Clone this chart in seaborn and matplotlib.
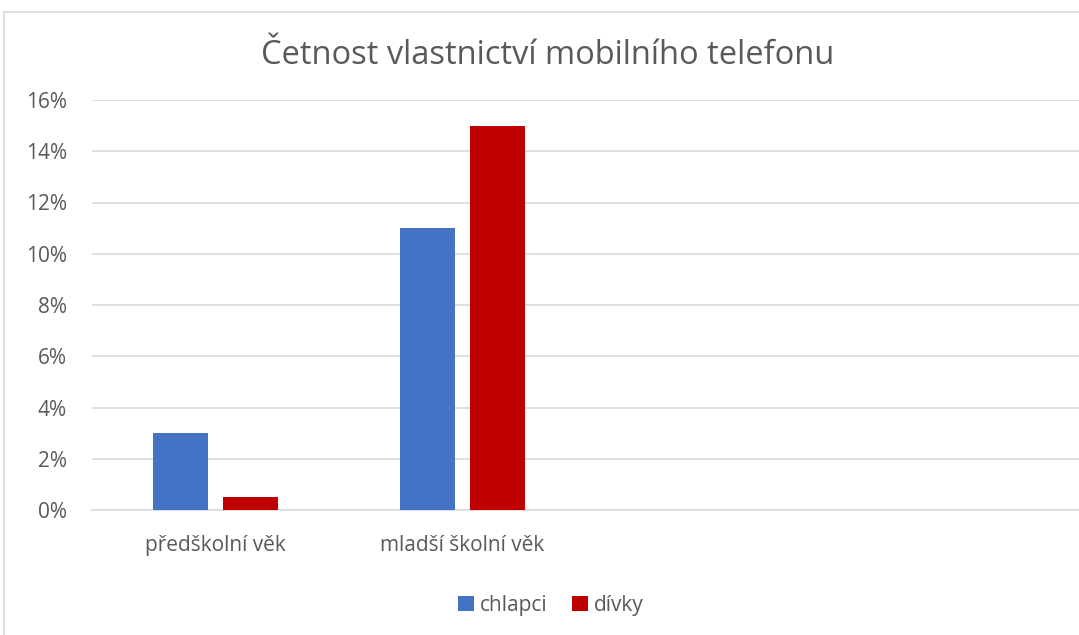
import numpy as np
import pandas as pd
import seaborn as sns
import matplotlib.pyplot as plt
from matplotlib.patches import Rectangle
from matplotlib.ticker import PercentFormatter

# data
kategorie = ["předškolní věk", "mladší školní věk"]
chlapci = [0.03, 0.11]
divky = [0.005, 0.15]
serie = ["chlapci", "dívky"]
barvy = ["#4472C4", "#C00000"]
y_ticks = [0, 0.02, 0.04, 0.06, 0.08, 0.10, 0.12, 0.14, 0.16]

df = pd.DataFrame({
    "kategorie": kategorie * 2,
    "hodnota": chlapci + divky,
    "serie": [serie[0]] * len(kategorie) + [serie[1]] * len(kategorie),
})

sns.set_style("white")
plt.rcParams['font.family'] = ['Open Sans', 'DejaVu Sans']
text_col = "#595959"
grid_col = "#D9D9D9"

fig = plt.figure(figsize=(10.79, 6.35), dpi=100)
ax = fig.add_axes([92 / 1079, 1 - 510 / 635, 1 - 92 / 1079, 410 / 635])

sns.barplot(data=df, x="kategorie", y="hodnota", hue="serie", order=kategorie,
            palette=barvy, saturation=1, width=0.566, gap=0.212, linewidth=0,
            ax=ax, zorder=3)

# the original has two more empty category slots on the right
ax.set_xlim(-0.5, 3.5)
ax.set_ylim(0, 0.16)
ax.set_yticks(y_ticks)
ax.yaxis.set_major_formatter(PercentFormatter(1.0, decimals=0))
ax.grid(axis="y", color=grid_col, linewidth=1.2, zorder=0)
ax.set_axisbelow(True)
for s in ["top", "right", "left"]:
    ax.spines[s].set_visible(False)
ax.spines["bottom"].set_color(grid_col)
ax.spines["bottom"].set_linewidth(1.2)
ax.tick_params(axis="both", length=0, colors=text_col, labelsize=15)
ax.tick_params(axis="x", pad=18)
ax.tick_params(axis="y", pad=18)
ax.set_xlabel("")
ax.set_ylabel("")

fig.text(548 / 1079, 1 - 55 / 635, "Četnost vlastnictví mobilního telefonu",
         ha="center", va="center", fontsize=23.5, color=text_col)

leg = ax.legend(loc="center", bbox_to_anchor=(551 / 1079, 30 / 635), bbox_transform=fig.transFigure,
                ncol=2, frameon=False, fontsize=15, handlelength=0.75, handleheight=0.75,
                handletextpad=0.3, columnspacing=1.2)
for t in leg.get_texts():
    t.set_color(text_col)

# chart area border
fig.patches.append(Rectangle((4 / 1079, -0.01), 1.0, 1 - 12 / 635 + 0.01,
                             transform=fig.transFigure, fill=False,
                             edgecolor=grid_col, linewidth=1.2))

fig.savefig("out.png", dpi=100)
